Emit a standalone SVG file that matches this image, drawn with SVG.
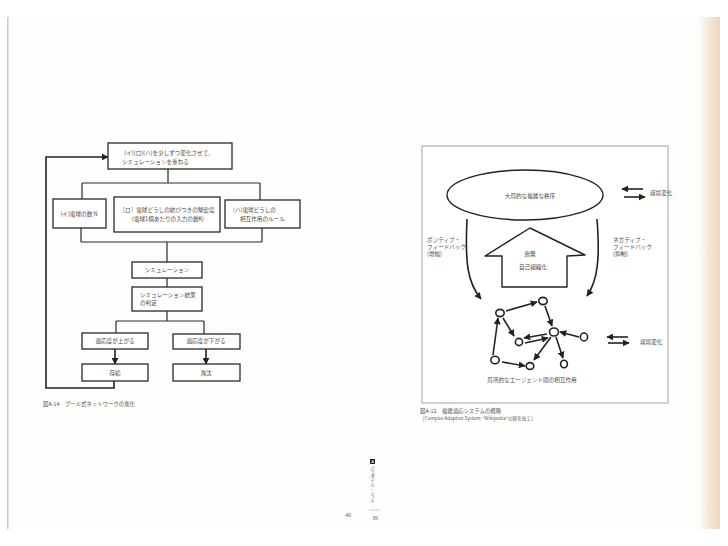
<svg xmlns="http://www.w3.org/2000/svg" width="728" height="546" viewBox="0 0 728 546">
<defs>
<linearGradient id="edge" x1="0" y1="0" x2="1" y2="0">
<stop offset="0" stop-color="#fbfaf8" stop-opacity="0"/>
<stop offset="0.5" stop-color="#f6e9da"/>
<stop offset="1" stop-color="#eed6bd"/>
</linearGradient>
<marker id="ah" viewBox="0 0 10 10" refX="9" refY="5" markerWidth="7" markerHeight="7" markerUnits="userSpaceOnUse" orient="auto">
<path d="M0,0 L10,5 L0,10 z" fill="#222"/>
</marker>
<marker id="ahb" viewBox="0 0 10 10" refX="9" refY="5" markerWidth="9" markerHeight="9" markerUnits="userSpaceOnUse" orient="auto">
<path d="M0,0 L10,5 L0,10 z" fill="#111"/>
</marker>
</defs>
<style>
.bx{fill:#fff;stroke:#2a2a2a;stroke-width:1.3}
.ln{fill:none;stroke:#2a2a2a;stroke-width:1.2}
.ar{fill:none;stroke:#222;stroke-width:1.6;marker-end:url(#ah)}
.t{font-family:"Noto Sans CJK JP","Noto Sans",sans-serif;font-size:5.6px;fill:#4a4a4a}
.m{text-anchor:middle}
.cap{font-family:"Noto Sans CJK JP","Noto Sans",sans-serif;font-size:5.4px;fill:#5a5a5a}
.nd{fill:#fff;stroke:#222;stroke-width:1.6}
</style>
<rect x="0" y="0" width="728" height="546" fill="#fff"/>
<rect x="7" y="17" width="713" height="512" fill="#fdfdfc"/>
<rect x="695" y="17" width="25" height="512" fill="url(#edge)"/>
<rect x="7" y="17" width="1.5" height="512" fill="#c8cdd0"/>

<!-- left diagram connectors -->
<g id="connectors-left">
<path class="ln" d="M168,169 V183 M82,183 H260 M82,183 V199 M260,183 V200"/>
<path class="ln" d="M81,228 V242 M262,228 V242 M81,242 H262 M167,242 V262"/>
<path class="ln" d="M167,278 V287 M167,311 V321 M116,321 H204 M116,321 V333 M204,321 V334"/>
<path class="ar" d="M115,349 V364" marker-end="url(#ahb)"/>
<path class="ar" d="M206,349 V364" marker-end="url(#ahb)"/>
<path class="ar" d="M114,381 V388 H46 V157 H108" marker-end="url(#ahb)"/>
</g>

<g id="n-top"><rect class="bx" x="108" y="143" width="124" height="26"/>
<text class="t m" x="169" y="155">(イ)(ロ)(ハ)を少しずつ変化させて、</text>
<text class="t" x="122" y="164">シミュレーションを重ねる</text></g>
<g id="n-i"><rect class="bx" x="53" y="199" width="53" height="29"/>
<text class="t m" x="79" y="216">(イ)電球の数 N</text></g>
<g id="n-ro"><rect class="bx" x="114" y="197" width="106" height="35"/>
<text class="t m" x="167" y="212">［ロ］電球どうしの結びつきの緊密度</text>
<text class="t m" x="168" y="221">(電球1個あたりの入力の数K)</text></g>
<g id="n-ha"><rect class="bx" x="225" y="200" width="75" height="28"/>
<text class="t" x="233" y="212">(ハ)電球どうしの</text>
<text class="t" x="240" y="221">相互作用のルール</text></g>
<g id="n-sim"><rect class="bx" x="132" y="262" width="70" height="16"/>
<text class="t m" x="167" y="272">シミュレーション</text></g>
<g id="n-judge"><rect class="bx" x="132" y="287" width="70" height="24"/>
<text class="t" x="140" y="297">シミュレーション結果</text>
<text class="t" x="140" y="305">の判定</text></g>
<g id="n-up"><rect class="bx" x="82" y="333" width="66" height="16"/>
<text class="t m" x="115" y="343">適応度が上がる</text></g>
<g id="n-down"><rect class="bx" x="173" y="334" width="67" height="15"/>
<text class="t m" x="206" y="343">適応度が下がる</text></g>
<g id="n-keep"><rect class="bx" x="82" y="364" width="66" height="17"/>
<text class="t m" x="115" y="375">存続</text></g>
<g id="n-cull"><rect class="bx" x="173" y="364" width="67" height="17"/>
<text class="t m" x="206" y="375">淘汰</text></g>
<text class="cap" x="43" y="406">図A-14　ブール式ネットワークの進化</text>

<!-- right diagram -->
<rect x="422" y="146" width="246" height="257" fill="#fff" stroke="#999" stroke-width="0.9"/>
<g id="n-order"><ellipse cx="525" cy="195" rx="78" ry="25" fill="#fff" stroke="#222" stroke-width="1.4"/>
<text class="t m" x="530" y="198">大局的な複雑な秩序</text></g>
<g id="n-emerge"><path d="M530,228 L585,255 L567,256 L567,287 L502,287 L502,256 L485,256 Z" fill="#fff" stroke="#222" stroke-width="1.4" stroke-linejoin="round"/>
<text class="t m" x="530" y="256">創発</text>
<text class="t m" x="533" y="269">自己組織化</text></g>
<g id="lbl-pos"><text class="t" x="427" y="242">ポジティブ・</text><text class="t" x="427" y="249">フィードバック</text><text class="t" x="427" y="256">(増幅)</text></g>
<g id="lbl-neg"><text class="t" x="613" y="242">ネガティブ・</text><text class="t" x="613" y="249">フィードバック</text><text class="t" x="613" y="256">(抑制)</text></g>
<g id="env1"><text class="t" x="650" y="195">環境変化</text></g>
<g id="env2"><text class="t" x="640" y="344">環境変化</text></g>
<g id="agents">
<ellipse id="a1" class="nd" cx="500" cy="313" rx="4.2" ry="3.6"/>
<ellipse id="a2" class="nd" cx="543" cy="301" rx="4.2" ry="3.6"/>
<ellipse id="a3" class="nd" cx="554" cy="332" rx="4.5" ry="4"/>
<ellipse id="a4" class="nd" cx="519" cy="342" rx="3.6" ry="3.6"/>
<ellipse id="a5" class="nd" cx="584" cy="337" rx="3.6" ry="4"/>
<ellipse id="a6" class="nd" cx="495" cy="360" rx="4.2" ry="3.8"/>
<ellipse id="a7" class="nd" cx="530" cy="366" rx="3.8" ry="3.4"/>
<ellipse id="a8" class="nd" cx="564" cy="364" rx="3.4" ry="3.8"/>
</g>
<text class="t m" x="532" y="382">局所的なエージェント間の相互作用</text>
<g id="connectors-right">
<path class="ar" d="M467,219 C465,262 467,282 481,299"/>
<path class="ar" d="M597,219 C600,258 598,280 587,296"/>
<path class="ar" d="M643,189 H622"/>
<path class="ar" d="M624,197 H645"/>
<path class="ar" d="M628,337 H607"/>
<path class="ar" d="M608,343 H629"/>
<path class="ar" d="M506,311 L537,302"/>
<path class="ar" d="M545,306 L552,326"/>
<path class="ar" d="M503,318 L514,336"/>
<path class="ar" d="M547,334 L524,338"/>
<path class="ar" d="M525,343 L548,338"/>
<path class="ar" d="M579,337 L560,332"/>
<path class="ar" d="M551,337 L534,360"/>
<path class="ar" d="M556,337 L563,358"/>
<path class="ar" d="M493,355 L498,318"/>
<path class="ar" d="M502,362 L525,366"/>
</g>
<text class="cap" x="420" y="413">図A-12　複雑適応システムの概略</text>
<text class="cap" x="420" y="420" style="font-size:4.6px">［Complex Adaptive System: "Wikipedia"の図を加工］</text>

<!-- page footer -->
<g id="footer">
<rect x="370" y="459" width="5" height="5" fill="#222"/>
<text x="372.5" y="463" text-anchor="middle" style="font-family:'Liberation Sans',sans-serif;font-size:4px;fill:#fff">A</text>
<text class="cap" x="372.5" y="466" style="writing-mode:vertical-rl;font-size:4.2px">パラダイム・シフト</text>
<line x1="369" y1="510" x2="380" y2="510" stroke="#999" stroke-width="0.5"/>
<text x="345" y="517" style="font-family:'Liberation Serif',serif;font-size:6px;fill:#666">40</text>
<text x="372" y="520" style="font-family:'Liberation Serif',serif;font-size:6px;fill:#666">39</text>
</g>
</svg>
